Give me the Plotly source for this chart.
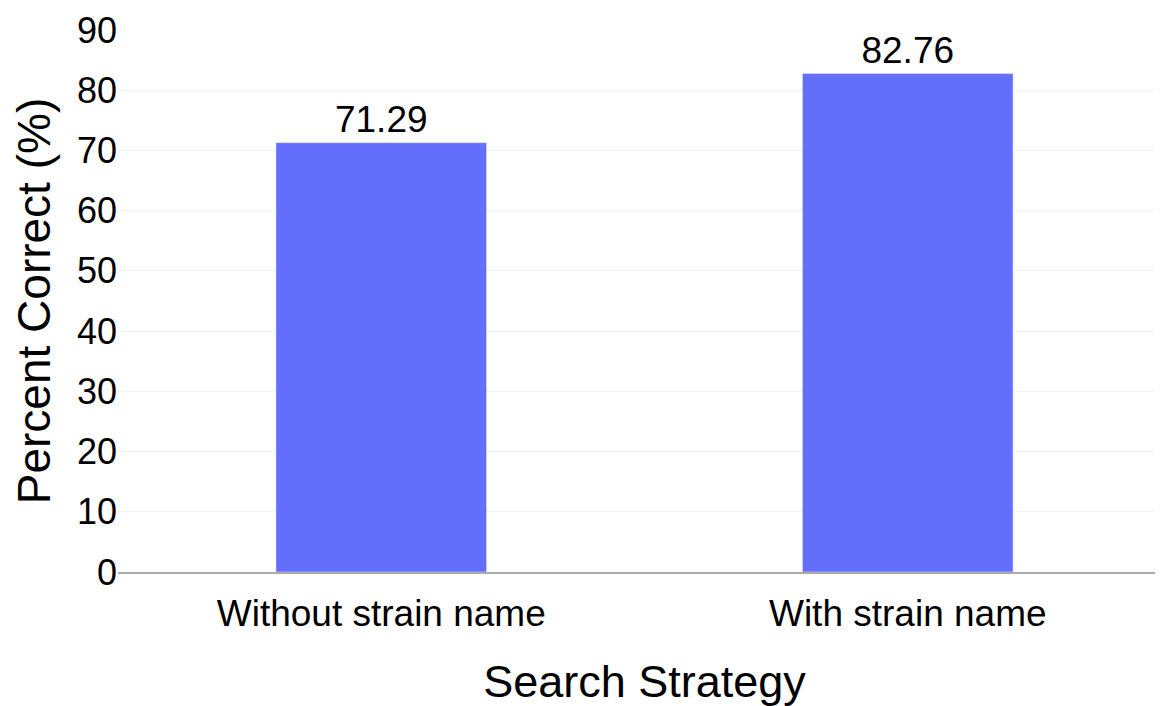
import plotly.graph_objects as go

categories = ["Without strain name", "With strain name"]
values = [71.29, 82.76]
value_labels = ["71.29", "82.76"]
y_ticks = [0, 10, 20, 30, 40, 50, 60, 70, 80, 90]

fig = go.Figure(
    go.Bar(
        x=categories,
        y=values,
        text=value_labels,
        textposition="outside",
        marker=dict(color="#636EFA"),
        width=0.4,
        cliponaxis=False,
        textfont=dict(size=37, color="black"),
    )
)

fig.update_layout(
    width=1163,
    height=706,
    margin=dict(l=110, r=0, t=22, b=142),
    paper_bgcolor="white",
    plot_bgcolor="white",
    font=dict(family="Liberation Sans, Arial, sans-serif", size=36, color="black"),
    showlegend=False,
    uniformtext=dict(minsize=36, mode="show"),
)
fig.update_xaxes(
    range=[-0.5, 1.5],
    showgrid=False,
    showline=True,
    linecolor="#aaaaaa",
    linewidth=2,
    ticks="",
    tickfont=dict(size=37),
    ticklabelstandoff=8,
    title=dict(text="Search Strategy", font=dict(size=45), standoff=32),
    automargin=False,
)
fig.update_yaxes(
    range=[0, 90],
    tickvals=y_ticks,
    showgrid=True,
    gridcolor="#f2f2f2",
    gridwidth=1,
    zeroline=False,
    showline=False,
    ticks="",
    tickfont=dict(size=36),
    title=dict(text="Percent Correct (%)", font=dict(size=46), standoff=21),
    automargin=False,
)

fig.write_html("out.html")
